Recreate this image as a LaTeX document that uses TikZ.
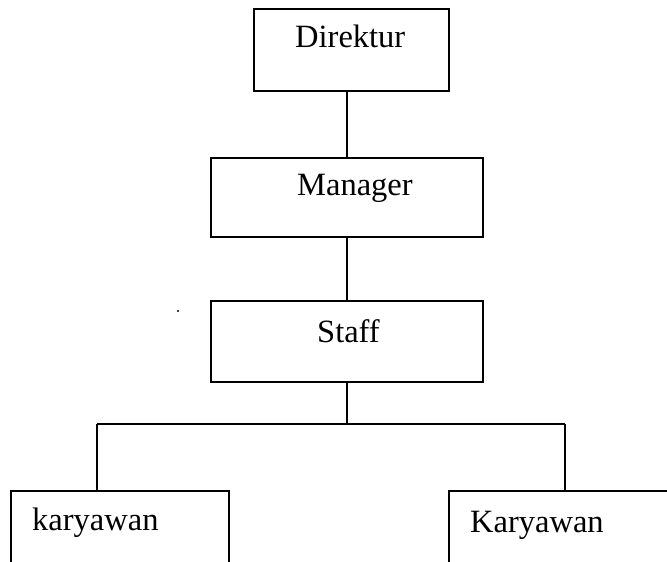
\documentclass[tikz,border=0pt]{standalone}
\usepackage{fontspec}
\setmainfont{Liberation Serif}
\begin{document}
\begin{tikzpicture}[x=1pt,y=1pt,
  box/.style={draw, line width=1.3pt, anchor=north west, inner sep=0pt, outer sep=0pt},
  lbl/.style={anchor=base west, inner sep=0pt, font=\fontsize{32.5}{37}\selectfont},
  conn/.style={line width=1.3pt}]
\useasboundingbox (0,0) rectangle (667,-562);
\clip (0,0) rectangle (667,-562);
% boxes
\node[box, minimum width=195pt, minimum height=82pt] (dir) at (254,-9) {};
\node[box, minimum width=272pt, minimum height=79pt] (man) at (211,-158) {};
\node[box, minimum width=272pt, minimum height=81pt] (stf) at (211,-301) {};
\node[box, minimum width=218pt, minimum height=110pt] (k1) at (11,-491) {};
\node[box, minimum width=260pt, minimum height=110pt] (k2) at (449,-491) {};
% labels
\node[lbl] (tdir) at (295,-47) {Direktur};
\node[lbl] (tman) at (297,-195) {Manager};
\node[lbl] (tstf) at (317,-342) {Staff};
\node[lbl] (tk1) at (32,-530) {karyawan};
\node[lbl] (tk2) at (470,-532) {Karyawan};
% connectors
\coordinate (j) at (347,-424);
\coordinate (jl) at (97,-424);
\coordinate (jr) at (565,-424);
\draw[conn] (347,-158) -- (dir.south -| 347,0);
\draw[conn] (347,-301) -- (man.south -| 347,0);
\draw[conn] (stf.south) -- (j);
\draw[conn] (jl) -- (jr);
\draw[conn] (jl) -- (jl |- k1.north);
\draw[conn] (jr) -- (jr |- k2.north);
% stray dot
\fill (178,-311) circle (1.1pt);
\end{tikzpicture}
\end{document}
